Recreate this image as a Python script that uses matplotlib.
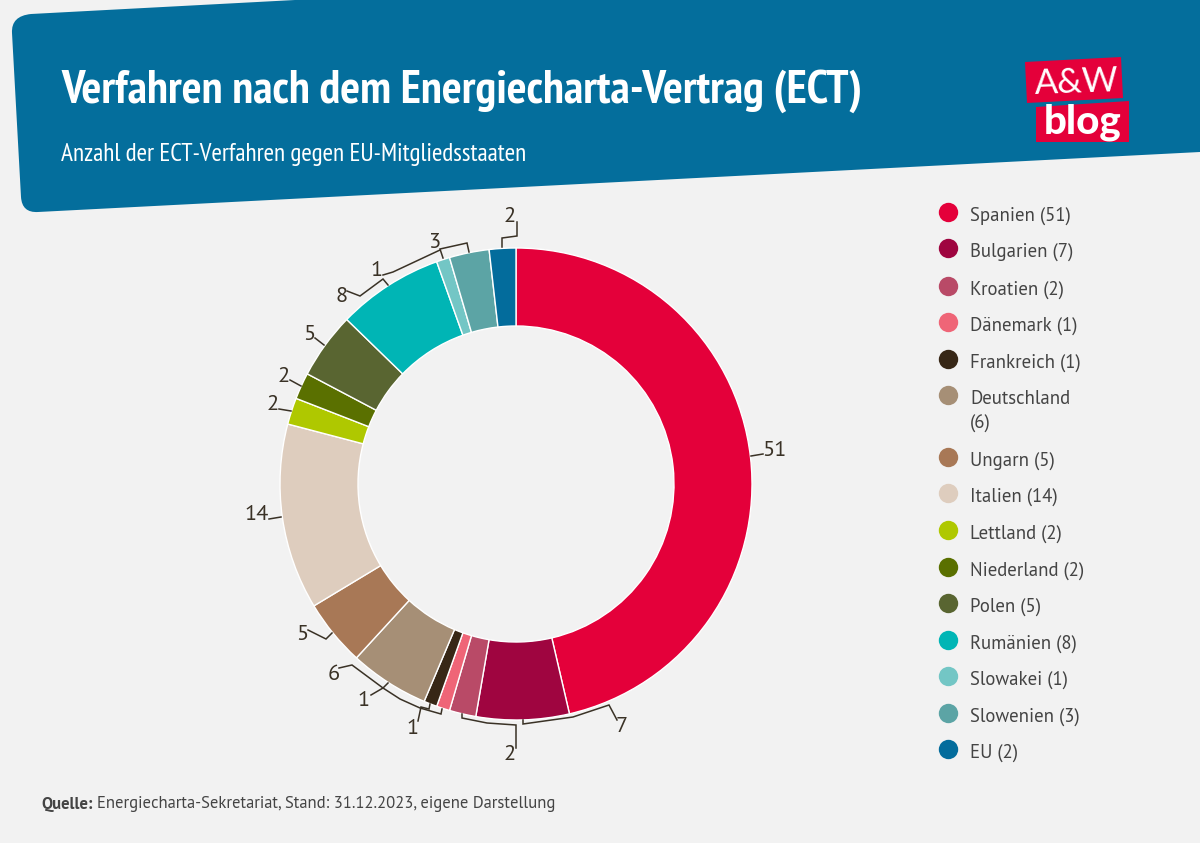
import logging
import matplotlib
matplotlib.use("Agg")
import matplotlib.pyplot as plt
from matplotlib.path import Path
from matplotlib.patches import PathPatch, Polygon

logging.getLogger("matplotlib.font_manager").setLevel(logging.ERROR)

# データ
countries = ["Spanien", "Bulgarien", "Kroatien", "Dänemark", "Frankreich", "Deutschland", "Ungarn", "Italien",
             "Lettland", "Niederland", "Polen", "Rumänien", "Slowakei", "Slowenien", "EU"]
cases = [51, 7, 2, 1, 1, 6, 5, 14, 2, 2, 5, 8, 1, 3, 2]
colors = ["#E4003A", "#9F0540", "#B94A67", "#EF6577", "#372716", "#A68F76", "#A87856", "#DECDBE",
          "#AFC800", "#5A7000", "#596531", "#00B5B5", "#73C6C5", "#5CA4A5", "#036C9C"]

BG = "#F2F2F2"
HEADER = "#046E9C"
RED = "#E4003A"
INK = "#3A3226"
TEXT = "#444444"
NARROW = ["PT Sans Narrow", "Roboto", "DejaVu Sans"]
BODY = ["PT Sans", "Lato", "DejaVu Sans"]
LOGO = ["Lato", "DejaVu Sans"]

W, H = 1200, 843


# ピクセル座標（上原点）→ 軸座標
def Y(y):
    return H - y


fig = plt.figure(figsize=(W / 100, H / 100), dpi=100, facecolor=BG)
ax = fig.add_axes([0, 0, 1, 1])

# ヘッダー
verts = [(295, 0), (1200, 0), (1200, 152), (38, 212), (22, 213), (21, 197), (12, 33), (11, 16), (31, 14), (295, 0)]
codes = [Path.MOVETO, Path.LINETO, Path.LINETO, Path.LINETO, Path.CURVE3, Path.CURVE3, Path.LINETO,
         Path.CURVE3, Path.CURVE3, Path.CLOSEPOLY]
ax.add_patch(PathPatch(Path([(x, Y(y)) for x, y in verts], codes), fc=HEADER, ec="none", zorder=1))
ax.text(61, Y(91), "Verfahren nach dem Energiecharta-Vertrag (ECT)", color="white", fontsize=33.7, fontweight="bold",
        family=NARROW, va="center", ha="left", zorder=3)
ax.text(61, Y(155), "Anzahl der ECT-Verfahren gegen EU-Mitgliedsstaaten", color="white", fontsize=18.2,
        family=NARROW, va="center", ha="left", zorder=3)

# ロゴ
ax.add_patch(Polygon([(1025, Y(62)), (1121, Y(57)), (1123, Y(98)), (1027, Y(103))], fc=RED, ec="none", zorder=2))
ax.add_patch(Polygon([(1036, Y(107)), (1129, Y(101)), (1129, Y(142)), (1036, Y(142))], fc=RED, ec="none", zorder=2))
ax.text(1077, Y(83), "A&W", color="white", fontsize=25, family=LOGO, va="center", ha="center", rotation=2, zorder=3)
ax.text(1083, Y(122), "blog", color="white", fontsize=29, fontweight="black", family=LOGO, va="center", ha="center",
        zorder=3)

# ドーナツ
ax.pie(cases, colors=colors, center=(516, Y(484)), radius=236, startangle=90, counterclock=False,
       wedgeprops=dict(width=78, edgecolor="white", linewidth=1.0), frame=True)

# 引き出し線（ピクセル座標）
leaders = [
    [(751, 456), (763, 454)],
    [(617, 720), (609, 705), (573, 717), (523, 724), (523, 720)],
    [(516, 748), (516, 725), (487, 723), (462, 718), (462, 714)],
    [(371, 695), (383, 688), (400, 699), (420, 708), (441, 714), (442, 709)],
    [(418, 721), (421, 707), (429, 709), (430, 704)],
    [(339, 668), (352, 665), (383, 688), (388, 683)],
    [(308, 630), (326, 639), (332, 633)],
    [(269, 519), (281, 517)],
    [(279, 409), (291, 411)],
    [(290, 380), (301, 386)],
    [(315, 338), (324, 345)],
    [(347, 291), (360, 296), (383, 279), (388, 285)],
    [(383, 275), (393, 272), (440, 250)],
    [(443, 258), (440, 249), (467, 243), (469, 252)],
    [(502, 247), (502, 238), (517, 236), (517, 222)],
]
for line in leaders:
    ax.plot([p[0] for p in line], [Y(p[1]) for p in line], color=INK, lw=1.1, solid_joinstyle="miter", zorder=4)

# 値ラベル（cases と同じ順）
label_pos = [(774, 451), (622, 726), (510, 755), (364, 701), (413, 728), (334, 674), (302, 635), (257, 514),
             (273, 405), (284, 376), (309, 334), (342, 297), (377, 270), (434, 243), (510, 216)]
for v, (x, y) in zip(cases, label_pos):
    ax.text(x, Y(y), str(v), color=INK, fontsize=16, family=BODY, va="center", ha="center", zorder=5)

# 凡例
legend_y = [214, 250, 288, 324, 361, 397, 459, 495, 532, 569, 605, 642, 678, 715, 751]
for c, v, col, y in zip(countries, cases, colors, legend_y):
    ax.scatter([948], [Y(y - 2)], s=195, color=col, linewidths=0, zorder=3)
    sep = "\n" if c == "Deutschland" else " "
    ax.text(970, Y(y - 7), f"{c}{sep}({v})", color=TEXT, fontsize=13.5, family=BODY, va="top", ha="left",
            linespacing=1.5, zorder=3)

# 出典
ax.text(41, Y(804), "Quelle:", color=TEXT, fontsize=12, fontweight="bold", family=BODY, va="center", ha="left")
ax.text(97, Y(804), "Energiecharta-Sekretariat, Stand: 31.12.2023, eigene Darstellung", color=TEXT, fontsize=12,
        family=BODY, va="center", ha="left")

ax.set_xlim(0, W)
ax.set_ylim(0, H)
ax.set_aspect("auto")
ax.axis("off")
fig.savefig("out.png", dpi=100, facecolor=BG)
